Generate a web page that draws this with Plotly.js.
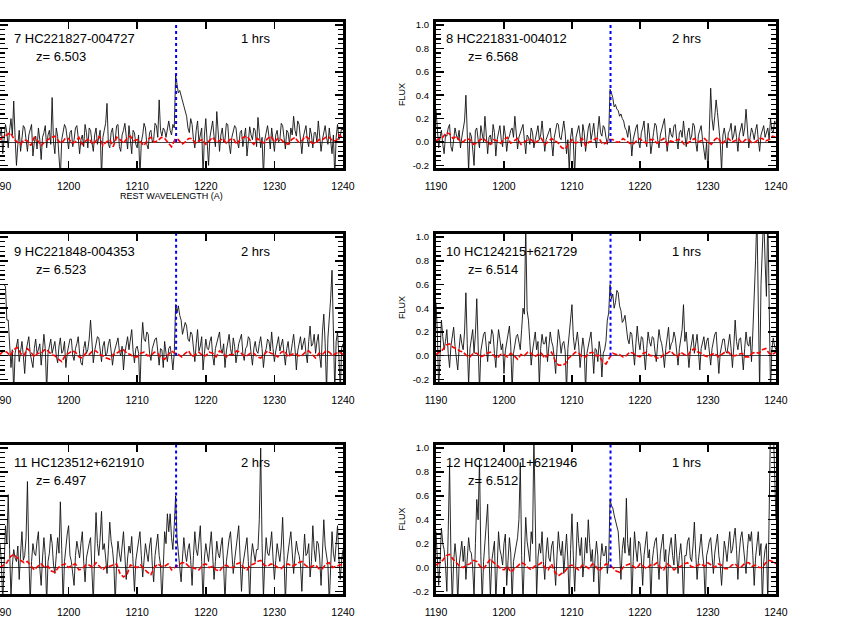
<!DOCTYPE html>
<html>
<head>
<meta charset="utf-8">
<script src="https://cdn.plot.ly/plotly-3.0.1.min.js"></script>
<style>html,body{margin:0;padding:0;background:#fff}#chart{width:864px;height:637px}</style>
</head>
<body>
<div id="chart"></div>
<script>
// ---------- data ----------
const WAVE_START = 1190;      // first wavelength sample (A)
const FLUX_STEP = 0.2;        // sampling of the object spectra (A)
const NOISE_STEP = 0.5;       // sampling of the noise spectra (A)
const LYA_REST = 1215.67;     // Lyman-alpha rest wavelength (A)

const PANEL_IDS = ["7", "8", "9", "10", "11", "12"];
const PANEL_NAMES = ["HC221827-004727", "HC221831-004012", "HC221848-004353",
                     "HC124215+621729", "HC123512+621910", "HC124001+621946"];
const PANEL_Z = ["6.503", "6.568", "6.523", "6.514", "6.497", "6.512"];
const PANEL_HRS = ["1 hrs", "2 hrs", "2 hrs", "1 hrs", "2 hrs", "1 hrs"];

const X_TICKS = [1190, 1200, 1210, 1220, 1230, 1240];
const Y_TICKS = [-0.2, 0.0, 0.2, 0.4, 0.6, 0.8, 1.0];

// object spectra, 1190.0 ... 1240.0 A every 0.2 A (20 values = 4 A per row)
const FLUX_7 = [
  0.05,0.12,-0.10,0.02,0.15,0.08,-0.05,0.10,0.20,0.06,0.35,0.04,-0.20,-0.02,0.10,-0.08,0.02,0.14,0.12,0.00,
  -0.08,0.06,0.10,0.15,-0.12,0.00,0.05,-0.06,0.12,0.02,-0.15,0.04,0.08,0.14,-0.05,0.06,0.10,-0.02,0.38,0.00,
  -0.10,0.12,0.05,-0.08,-0.30,0.02,0.08,0.15,0.12,0.00,-0.06,0.08,0.10,-0.04,0.02,0.12,0.14,0.04,-0.10,0.02,
  0.06,-0.04,0.15,0.08,-0.05,0.12,0.10,0.00,-0.08,0.06,0.12,-0.02,0.03,0.10,-0.30,0.04,0.10,0.16,0.33,-0.02,
  -0.05,0.08,0.12,0.00,0.02,0.14,0.15,-0.04,-0.08,0.06,0.10,0.16,0.05,-0.06,0.14,0.04,-0.10,0.10,0.08,-0.02,
  -0.05,0.06,-0.30,0.00,0.06,0.16,0.12,-0.02,-0.06,0.08,0.10,0.00,0.02,0.16,0.14,0.04,0.36,0.10,0.05,0.12,
  0.10,0.04,0.12,0.18,0.10,0.06,0.15,0.12,0.57,0.48,0.42,0.44,0.40,0.34,0.30,0.26,0.22,0.12,0.08,0.20,
  0.15,0.02,-0.05,0.10,0.18,0.00,0.05,0.12,-0.30,0.06,0.20,-0.05,-0.20,0.04,0.10,0.18,0.05,-0.04,0.26,0.10,
  -0.08,0.06,0.12,0.00,0.02,0.16,0.15,-0.02,-0.10,0.04,0.08,0.14,0.12,0.00,-0.05,0.08,0.10,-0.04,0.04,0.12,
  -0.12,0.02,0.13,0.06,0.02,0.12,0.10,-0.04,0.21,0.08,-0.05,0.04,-0.30,0.02,0.10,0.14,0.05,-0.06,0.12,0.04,
  -0.08,0.06,0.10,0.00,0.02,0.16,0.14,0.04,-0.06,0.10,0.08,-0.02,0.12,0.06,0.22,0.10,0.05,0.18,0.15,0.02,
  -0.10,0.04,0.10,0.14,0.02,-0.04,0.12,0.06,-0.05,0.08,0.08,0.00,0.18,0.06,-0.08,0.02,0.10,0.14,0.04,-0.02,
  0.12,0.00,-0.10,0.06,-0.30,0.04,0.15,0.02,0.05,0.12,0.10];
const FLUX_8 = [
  0.28,0.12,-0.05,0.04,0.10,-0.02,-0.10,0.06,0.05,0.12,0.15,-0.04,-0.08,0.02,0.12,0.06,0.02,0.10,-0.05,0.04,
  0.10,0.18,0.40,0.00,-0.25,0.08,0.05,-0.06,-0.20,0.10,0.12,0.02,-0.05,0.14,0.08,0.00,0.22,0.06,-0.10,0.04,
  0.06,-0.02,0.15,0.08,-0.12,0.02,0.10,0.14,0.02,-0.04,0.14,0.06,-0.08,0.02,0.05,0.10,0.12,0.04,0.22,0.08,
  -0.06,0.04,0.08,0.12,0.15,0.02,-0.10,0.06,0.04,-0.02,0.12,0.08,-0.05,0.02,0.10,0.14,0.02,0.06,0.18,0.04,
  -0.08,0.02,0.06,0.10,0.12,0.00,-0.12,0.04,0.10,0.16,0.15,0.04,0.02,0.12,0.18,0.08,-0.10,0.02,-0.25,0.04,
  0.12,0.00,-0.28,0.04,0.10,0.14,0.05,-0.04,0.15,0.08,-0.08,0.02,0.12,0.16,0.02,0.08,0.16,0.04,-0.05,0.10,
  0.22,0.08,0.05,0.14,0.12,0.04,-0.02,0.06,0.45,0.42,0.38,0.30,0.32,0.28,0.27,0.22,0.24,0.20,0.18,0.12,
  0.10,0.04,0.14,0.06,-0.12,0.02,0.08,0.12,0.15,0.00,-0.05,0.08,0.12,0.18,0.02,-0.04,0.16,0.06,-0.10,0.02,
  0.08,0.16,0.14,0.02,-0.05,0.06,0.10,0.16,0.20,0.04,-0.08,0.02,0.12,0.06,0.04,0.14,0.15,0.02,-0.06,0.08,
  0.10,0.04,0.18,0.06,-0.04,0.08,0.12,0.02,0.05,0.16,0.14,0.00,-0.08,0.06,0.10,0.14,0.02,-0.06,-0.15,0.00,
  -0.28,0.10,0.46,0.20,0.10,0.22,0.36,0.25,0.15,0.00,-0.25,0.06,0.12,0.02,-0.05,0.08,0.10,0.16,0.02,0.06,
  0.14,0.04,-0.08,0.06,0.10,0.16,0.05,0.12,0.28,0.06,-0.05,0.04,0.12,0.08,0.02,0.10,0.15,0.02,-0.08,0.06,
  0.10,0.14,0.04,0.08,0.12,0.02,0.20,0.10,0.08,0.18,0.15];
const FLUX_9 = [
  0.60,0.60,0.60,0.60,0.58,0.30,0.30,0.12,-0.10,0.05,-0.30,0.02,0.08,0.14,-0.05,0.06,0.12,0.00,-0.15,0.04,
  0.10,0.16,0.02,-0.04,-0.10,0.06,0.14,0.02,0.05,0.10,-0.08,0.04,0.18,0.06,-0.30,0.02,0.10,0.14,0.02,0.08,
  0.12,0.00,-0.06,0.08,0.15,0.02,0.04,0.12,-0.10,0.02,0.08,0.14,0.14,0.00,-0.04,0.06,0.10,0.16,0.02,-0.06,
  -0.08,0.06,0.12,0.02,0.05,0.14,0.30,0.08,-0.06,0.04,0.10,0.16,0.15,0.02,-0.05,0.08,0.12,0.00,0.02,0.10,
  0.14,0.04,-0.08,0.02,0.06,0.12,0.15,0.04,0.00,0.08,-0.12,0.02,0.10,0.16,0.05,0.12,0.22,0.04,-0.06,0.06,
  0.08,0.02,-0.30,0.10,0.28,0.14,0.12,0.20,0.18,0.02,-0.04,0.06,0.10,0.14,0.15,0.02,-0.08,0.06,0.05,-0.10,
  0.12,0.02,-0.05,0.06,0.08,0.00,-0.12,0.02,0.43,0.36,0.42,0.34,0.30,0.18,0.22,0.28,0.25,0.14,0.12,0.20,
  0.18,0.06,-0.05,0.10,0.22,0.04,0.08,0.16,-0.12,0.02,0.14,0.06,0.05,0.12,0.16,0.00,-0.08,0.06,0.10,0.14,
  0.20,0.06,0.02,0.10,-0.10,0.04,0.12,0.18,0.06,0.00,0.15,0.08,-0.06,0.04,0.10,0.14,0.18,0.02,-0.04,0.06,
  0.08,0.16,0.14,0.02,-0.08,0.06,0.12,0.04,0.02,0.10,0.16,0.06,-0.10,0.02,0.06,0.14,0.12,0.04,0.20,0.06,
  -0.05,0.04,0.10,0.16,0.04,0.08,0.14,0.02,-0.08,0.06,0.12,0.00,0.02,0.10,0.18,0.06,-0.12,0.04,0.10,0.16,
  0.05,0.10,0.15,0.02,-0.06,0.12,0.25,0.08,0.10,0.18,0.02,0.12,0.18,0.00,-0.10,0.20,0.35,0.10,-0.30,0.15,
  0.30,0.48,0.72,0.10,-0.30,0.12,0.20,0.00,-0.30,0.06,0.10];
const FLUX_10 = [
  0.45,0.20,-0.30,0.10,0.30,0.16,0.05,0.12,0.22,0.02,-0.10,0.08,0.15,0.24,0.08,-0.04,-0.12,0.06,0.18,0.10,
  0.05,0.20,0.53,0.10,-0.25,0.06,0.15,0.22,0.02,0.18,0.48,0.08,-0.30,0.04,0.12,0.18,0.20,0.06,-0.05,0.12,
  0.10,0.22,0.18,0.02,-0.10,0.08,0.22,0.14,0.05,0.10,-0.15,0.04,0.12,0.20,0.25,0.08,-0.30,0.02,0.08,0.16,
  0.18,0.10,0.05,0.22,0.40,0.35,1.10,0.38,0.30,0.12,-0.08,0.04,0.15,0.20,0.05,0.12,-0.25,0.06,0.18,0.10,
  0.10,0.16,-0.05,0.08,0.20,0.12,0.08,-0.02,-0.15,0.06,0.22,0.14,0.02,0.10,0.12,0.04,-0.30,0.06,0.18,0.26,
  0.43,0.16,0.05,0.12,0.20,0.08,-0.10,0.04,0.15,0.06,-0.30,0.02,0.08,0.16,0.20,0.04,-0.15,0.06,0.05,-0.05,
  0.12,0.04,-0.18,0.02,0.05,0.12,0.30,0.36,0.60,0.48,0.52,0.40,0.45,0.55,0.53,0.42,0.38,0.28,0.30,0.34,
  0.22,0.14,0.10,0.20,0.18,0.06,-0.08,0.10,0.25,0.12,0.05,0.16,0.15,0.02,-0.12,0.06,0.20,0.12,0.08,0.16,
  0.15,0.04,-0.05,0.10,0.22,0.14,0.10,0.02,-0.10,0.06,0.18,0.24,0.05,0.10,0.12,0.20,0.15,0.02,-0.08,0.06,
  0.15,0.22,0.43,0.12,0.20,0.06,-0.10,0.04,0.12,0.18,0.02,0.10,0.18,0.04,-0.12,0.06,0.10,0.16,0.05,0.12,
  0.15,0.04,-0.08,0.06,0.12,0.18,0.20,0.06,-0.15,0.02,0.08,0.14,0.14,0.04,0.02,0.12,0.18,0.06,-0.10,0.08,
  0.30,0.12,0.05,0.14,0.15,0.02,-0.12,0.06,0.20,0.10,0.08,0.16,-0.05,0.20,0.45,0.80,1.20,0.40,-0.30,0.60,
  1.20,1.20,0.80,0.50,1.20,0.30,-0.30,0.05,0.15,0.08,0.05];
const FLUX_11 = [
  0.20,0.05,-0.30,0.10,0.35,0.20,0.61,0.15,-0.25,0.02,0.15,0.08,0.05,0.18,-0.10,0.12,0.30,0.06,0.10,0.25,
  0.72,0.10,-0.30,0.05,0.20,0.12,0.10,0.22,0.30,0.00,-0.15,0.08,0.25,0.10,-0.30,0.05,0.12,0.28,0.20,0.02,
  -0.05,0.10,0.25,0.12,0.55,0.15,-0.30,0.05,0.20,0.28,0.35,0.10,0.05,-0.05,-0.15,0.10,0.22,0.15,0.08,0.20,
  0.30,0.05,-0.12,0.08,0.15,0.20,0.25,0.00,-0.30,0.12,0.46,0.20,0.10,0.25,0.47,0.15,0.20,0.08,-0.05,0.15,
  0.38,0.22,0.15,0.02,-0.30,0.05,0.22,0.12,0.05,0.18,0.30,0.10,-0.10,0.08,0.18,0.12,0.26,0.04,-0.20,0.06,
  0.15,0.22,0.30,0.10,-0.08,0.06,0.20,0.12,0.05,0.18,0.25,0.02,-0.12,0.10,0.18,0.28,0.10,0.02,-0.30,0.08,
  0.30,0.20,0.45,0.30,0.45,0.25,0.15,0.35,0.60,0.25,0.10,0.02,-0.12,0.08,0.25,0.12,0.05,0.15,0.20,0.06,
  -0.15,0.10,0.30,0.15,0.10,0.22,0.35,0.05,-0.30,0.08,0.20,0.12,0.05,0.18,0.30,0.10,-0.10,0.05,0.22,0.12,
  0.08,0.18,0.25,0.02,-0.30,0.05,0.18,0.24,0.30,0.10,-0.05,0.06,0.15,0.22,0.35,0.08,-0.20,0.02,0.10,0.18,
  0.25,0.05,-0.30,0.08,0.20,0.12,0.05,0.15,0.15,0.40,1.00,0.20,-0.25,0.06,0.25,0.12,0.10,0.18,0.30,0.08,
  -0.10,0.06,0.20,0.12,0.05,0.18,0.42,0.10,-0.30,0.04,0.15,0.22,0.30,0.08,-0.05,0.10,0.22,0.14,0.10,0.02,
  -0.20,0.08,0.28,0.10,0.12,0.20,-0.08,0.05,0.35,0.15,0.05,0.22,0.20,0.08,-0.15,0.12,0.40,0.18,0.10,0.02,
  -0.30,0.10,0.30,0.12,0.05,0.20,0.35,0.08,-0.10,0.06,0.15];
const FLUX_12 = [
  0.30,0.10,-0.15,0.05,0.33,0.20,0.15,0.02,-0.20,0.30,0.86,0.10,-0.30,0.05,0.20,0.08,-0.30,0.02,0.15,0.22,
  0.05,0.18,-0.10,0.06,0.25,0.14,0.12,0.00,-0.25,0.20,0.57,0.40,0.90,0.10,-0.30,0.05,0.20,0.30,0.53,0.10,
  -0.25,0.05,0.15,0.22,-0.30,0.08,0.30,0.15,0.10,0.02,0.20,0.28,-0.15,0.06,0.25,0.12,-0.30,0.05,0.12,0.20,
  0.25,0.40,0.88,0.10,-0.30,0.08,0.42,0.22,0.15,0.05,0.30,0.20,1.10,0.30,-0.25,0.08,0.20,0.12,0.30,0.05,
  -0.10,0.12,0.25,0.08,0.05,0.18,0.22,0.02,-0.15,0.10,0.30,0.16,0.10,0.22,-0.05,0.12,0.28,0.06,-0.30,0.15,
  0.45,0.10,-0.20,0.08,0.38,0.20,0.10,0.25,-0.08,0.05,0.25,0.12,0.40,0.20,0.05,0.15,-0.12,0.08,0.22,0.10,
  -0.30,0.05,0.20,0.10,0.10,0.18,-0.05,0.06,0.57,0.52,0.50,0.44,0.40,0.35,0.30,0.12,-0.10,0.15,0.25,0.12,
  0.58,0.20,0.10,0.25,-0.30,0.05,0.30,0.15,0.05,0.22,0.20,0.08,-0.15,0.10,0.22,0.30,0.08,0.15,-0.30,0.05,
  0.15,0.22,0.25,0.05,-0.10,0.12,0.20,0.28,0.05,0.15,-0.30,0.08,0.18,0.25,0.10,0.02,0.28,0.12,-0.05,0.10,
  0.20,0.05,-0.30,0.10,0.10,0.22,0.25,0.08,0.05,0.18,0.38,0.12,-0.10,0.06,0.20,0.28,0.12,0.02,-0.30,0.10,
  0.15,0.22,0.25,0.10,-0.05,0.12,0.20,0.28,0.10,0.02,-0.15,0.10,0.22,0.15,0.05,0.18,0.30,0.12,0.15,0.25,
  0.33,0.15,-0.10,0.12,0.25,0.30,0.20,0.08,-0.05,0.15,0.28,0.22,0.30,0.10,-0.15,0.08,0.22,0.30,0.10,0.20,
  -0.30,0.05,0.15,0.20,-0.30,0.40,1.20,1.20,1.20,0.80,0.40];

// noise spectra, 1190.0 ... 1240.0 A every 0.5 A (20 values = 10 A per row)
const NOISE_7 = [
  0.02,0.05,0.06,0.08,0.03,0.00,-0.02,0.02,0.01,-0.03,0.04,0.01,-0.03,0.00,0.02,0.04,0.05,0.01,-0.01,0.03,
  0.03,-0.01,0.00,0.04,-0.02,0.01,0.03,-0.02,0.01,0.05,-0.03,0.00,0.02,-0.04,0.04,0.02,-0.01,0.03,0.05,0.01,
  0.02,0.00,-0.03,0.02,0.04,0.00,0.01,0.04,0.03,-0.01,-0.04,0.02,0.02,-0.02,0.00,0.03,0.03,-0.01,0.01,0.02,
  -0.02,0.01,0.04,0.00,0.01,0.03,-0.01,0.02,0.03,-0.02,0.02,0.04,0.05,0.01,-0.02,0.03,0.01,-0.01,0.03,0.05,
  0.00,0.03,0.02,-0.01,-0.02,0.02,0.04,0.00,0.01,0.05,0.03,-0.01,-0.01,0.02,0.02,0.04,0.04,0.01,0.01,0.06,0.03];
const NOISE_8 = [
  0.01,0.03,0.04,0.08,0.07,0.03,0.05,0.01,0.00,0.03,0.02,-0.02,-0.01,0.02,0.03,0.00,-0.02,0.02,0.01,-0.01,
  0.02,0.04,-0.01,0.01,0.03,-0.02,0.00,0.02,0.02,-0.01,0.01,0.03,-0.02,0.00,0.03,0.01,-0.01,-0.05,-0.06,-0.02,
  0.02,-0.01,0.00,0.03,-0.03,0.00,0.01,0.03,0.03,-0.02,-0.01,0.02,0.02,0.00,0.00,0.03,0.01,-0.01,-0.02,0.01,
  0.03,0.00,-0.01,0.02,0.02,-0.01,0.01,0.03,-0.02,0.01,0.00,0.02,0.02,-0.02,-0.01,0.01,0.03,0.00,0.01,0.03,
  0.00,-0.02,0.02,0.04,-0.02,0.01,0.03,0.00,0.01,0.03,-0.01,0.02,0.02,-0.01,0.00,0.03,0.03,0.01,0.02,0.05,0.04];
const NOISE_9 = [
  0.01,0.04,0.03,0.00,0.05,0.07,0.02,0.00,0.06,0.03,-0.01,0.02,0.02,0.05,0.04,0.01,0.00,-0.03,-0.05,0.00,
  0.02,0.04,0.03,-0.01,-0.02,0.02,0.01,0.04,0.04,0.01,0.00,-0.02,-0.03,0.01,0.02,0.04,0.05,0.02,0.01,-0.01,
  -0.01,0.02,0.03,0.00,0.00,0.03,0.02,-0.02,-0.03,0.01,0.04,0.02,0.01,-0.01,0.02,0.04,-0.01,0.01,0.03,0.00,
  0.00,0.03,0.02,-0.01,0.04,0.02,-0.01,0.01,0.01,0.04,0.03,0.00,0.00,0.02,0.02,-0.01,-0.02,0.01,0.04,0.02,
  0.01,-0.01,0.03,0.04,-0.01,0.01,0.02,0.00,0.00,0.03,0.04,0.01,-0.02,0.02,0.01,0.04,0.03,0.00,0.02,0.03,0.01];
const NOISE_10 = [
  0.01,0.03,0.05,0.09,0.10,0.07,0.06,0.04,0.03,0.00,-0.01,0.02,0.02,-0.01,0.00,0.02,0.03,0.00,-0.02,0.01,
  0.01,-0.01,0.02,0.00,-0.03,0.01,0.00,0.03,0.02,-0.01,0.01,0.02,-0.02,0.01,0.03,-0.04,-0.08,-0.08,-0.07,-0.02,
  0.00,0.03,0.02,-0.01,-0.01,0.02,0.03,0.00,0.00,-0.05,-0.07,-0.02,0.02,0.01,0.01,-0.01,0.00,0.03,0.02,0.00,
  -0.01,0.02,0.03,0.00,0.00,-0.02,-0.02,0.01,0.02,0.04,0.01,-0.01,0.03,0.01,0.00,0.04,0.06,0.03,0.02,0.00,
  -0.01,0.01,0.02,-0.01,0.01,0.03,0.03,0.00,0.00,0.01,0.02,-0.01,-0.01,0.02,0.03,0.02,0.05,0.06,0.02,0.01,0.03];
const NOISE_11 = [
  0.00,0.02,0.04,0.09,0.11,0.08,0.06,0.04,0.05,0.01,-0.02,0.01,0.03,0.00,0.01,-0.03,-0.04,0.00,0.02,0.03,
  0.00,0.02,0.03,-0.02,-0.01,0.02,0.02,0.00,0.04,0.01,-0.02,0.01,0.01,0.02,0.03,-0.05,-0.08,-0.06,0.02,0.01,
  0.00,0.02,-0.01,-0.04,-0.06,0.00,0.03,0.01,0.01,0.03,-0.02,0.00,0.02,0.04,0.04,0.01,0.00,-0.01,-0.02,0.02,
  0.03,0.00,0.01,-0.02,-0.03,0.01,0.02,0.00,0.00,0.03,0.04,0.00,-0.02,0.02,0.03,0.05,0.06,0.02,0.01,0.03,
  0.02,0.00,-0.01,0.02,0.03,0.01,0.02,0.04,0.05,0.02,0.00,0.01,0.02,-0.01,-0.01,0.03,0.04,0.00,0.01,0.02,0.03];
const NOISE_12 = [
  0.02,0.04,0.06,0.10,0.11,0.07,0.04,0.01,0.00,0.02,0.03,0.06,0.05,0.01,-0.01,0.03,0.07,0.04,0.02,-0.01,
  -0.02,0.01,-0.04,-0.01,0.01,0.04,0.03,0.00,-0.02,0.01,0.02,0.04,0.00,-0.02,0.03,-0.04,-0.07,-0.05,-0.03,0.01,
  0.02,0.00,-0.02,0.02,0.01,-0.01,0.03,0.01,-0.03,0.00,0.03,0.02,0.00,-0.03,-0.04,0.00,0.02,0.03,0.01,-0.01,
  0.03,0.01,-0.01,0.02,0.02,0.04,0.00,-0.02,0.03,0.01,-0.02,0.00,0.01,0.03,0.04,0.01,0.00,0.02,0.03,0.01,
  0.04,0.02,0.00,0.03,0.02,-0.01,-0.01,0.02,0.03,0.00,0.01,0.04,0.04,0.01,0.02,0.00,0.00,0.04,0.06,0.05,0.03];

const FLUXES = [FLUX_7, FLUX_8, FLUX_9, FLUX_10, FLUX_11, FLUX_12];
const NOISES = [NOISE_7, NOISE_8, NOISE_9, NOISE_10, NOISE_11, NOISE_12];

// ---------- layout helpers ----------
const Y_RANGE = [-0.222, 1.026];
const X_RANGE = [1190, 1240];
const Y_MINOR_STEP = 0.04;
const COL_DOMAINS = [[0.0, 0.397], [0.5046, 0.8981]];
const ROW_DOMAINS = [[0.7363, 0.9655], [0.4003, 0.6327], [0.0675, 0.3014]];
const FONT = "Liberation Sans, Arial, Helvetica, sans-serif";

const traces = [];
const layout = {
  width: 864, height: 637,
  margin: {l: 0, r: 0, t: 0, b: 0},
  paper_bgcolor: "#fff", plot_bgcolor: "#fff",
  showlegend: false,
  font: {family: FONT, color: "#000"},
  annotations: []
};

for (let i = 0; i < 6; i++) {
  const n = i + 1;
  const ax = n === 1 ? "" : String(n);
  const xa = "x" + ax, ya = "y" + ax;
  const col = i % 2, row = Math.floor(i / 2);

  traces.push({type: "scatter", mode: "lines", x0: WAVE_START, dx: FLUX_STEP, y: FLUXES[i],
    xaxis: xa, yaxis: ya, line: {color: "#111111", width: 0.9}, hoverinfo: "skip"});
  traces.push({type: "scatter", mode: "lines", x0: WAVE_START, dx: NOISE_STEP, y: NOISES[i],
    xaxis: xa, yaxis: ya, line: {color: "#ff0000", width: 1.6, dash: "5px,2px"}, hoverinfo: "skip"});
  traces.push({type: "scatter", mode: "lines", x: [LYA_REST, LYA_REST], y: [0, Y_RANGE[1]],
    xaxis: xa, yaxis: ya, line: {color: "#0000ff", width: 2, dash: "dot"}, hoverinfo: "skip"});

  layout["xaxis" + ax] = {
    domain: COL_DOMAINS[col], range: X_RANGE, anchor: ya,
    tickmode: "linear", tick0: X_TICKS[0], dtick: X_TICKS[1] - X_TICKS[0],
    ticks: "inside", ticklen: 7, tickwidth: 1.5, tickcolor: "#000",
    showline: true, linewidth: 3, linecolor: "#000", mirror: "allticks",
    showgrid: false, zeroline: false,
    tickfont: {family: FONT, size: 10.5, color: "#000"},
    ticklabelstandoff: 6, ticklabeloverflow: "allow"
  };
  layout["yaxis" + ax] = {
    domain: ROW_DOMAINS[row], range: Y_RANGE, anchor: xa,
    tickmode: "array", tickvals: Y_TICKS, ticktext: Y_TICKS.map(v => v.toFixed(1)),
    ticks: "inside", ticklen: 8, tickwidth: 1.5, tickcolor: "#000",
    minor: {ticks: "inside", tickmode: "linear", tick0: Y_TICKS[0], dtick: Y_MINOR_STEP, ticklen: 5, tickwidth: 1.2, tickcolor: "#000", showgrid: false},
    showline: true, linewidth: 3, linecolor: "#000", mirror: "allticks",
    showgrid: false, zeroline: true, zerolinecolor: "#444", zerolinewidth: 1,
    tickfont: {family: FONT, size: 9.5, color: "#000"},
    ticklabelstandoff: 2, showticklabels: col === 1
  };

  const xName = col === 0 ? 1191.7 : 1191.2;
  const xZ = col === 0 ? 1194.9 : 1194.4;
  const xHrs = col === 0 ? 1227.2 : 1226.9;
  layout.annotations.push({xref: xa, yref: ya, x: xName, y: 0.882, xanchor: "left", yanchor: "middle",
    text: PANEL_IDS[i] + " " + PANEL_NAMES[i], showarrow: false, font: {family: FONT, size: 13, color: "#000"}});
  layout.annotations.push({xref: xa, yref: ya, x: xZ, y: 0.73, xanchor: "left", yanchor: "middle",
    text: "z= " + PANEL_Z[i], showarrow: false, font: {family: FONT, size: 13, color: "#000"}});
  layout.annotations.push({xref: xa, yref: ya, x: xHrs, y: 0.882, xanchor: "center", yanchor: "middle",
    text: PANEL_HRS[i], showarrow: false, font: {family: FONT, size: 13, color: "#000"}});

  if (col === 1) {
    layout.annotations.push({xref: "paper", yref: ya + " domain", x: 402 / 864, y: 0.5,
      xanchor: "center", yanchor: "middle", textangle: -90, text: "FLUX", showarrow: false,
      font: {family: FONT, size: 9, color: "#000"}});
  }
}
layout.annotations.push({xref: "x domain", yref: "paper", x: 0.5, y: 1 - 196 / 637,
  xanchor: "center", yanchor: "middle", text: "REST WAVELENGTH (A)", showarrow: false,
  font: {family: FONT, size: 9, color: "#000"}});

Plotly.newPlot("chart", traces, layout, {staticPlot: true, displayModeBar: false});
</script>
</body>
</html>
